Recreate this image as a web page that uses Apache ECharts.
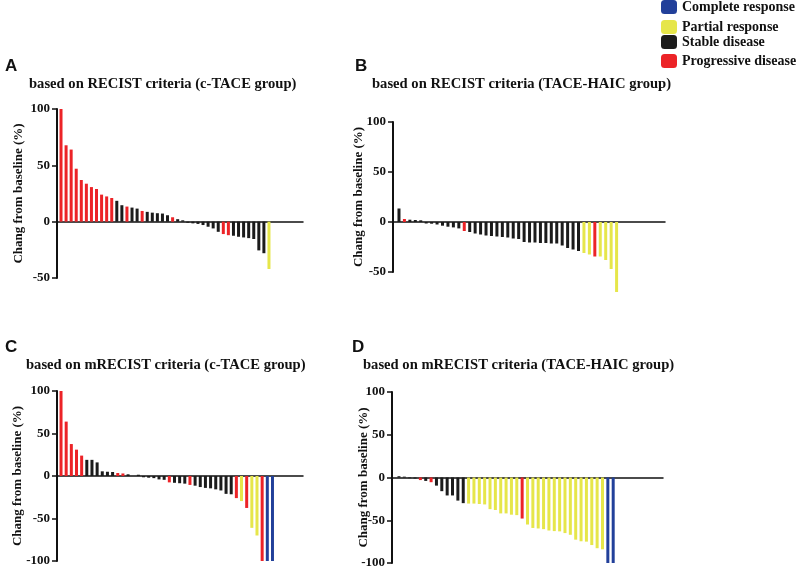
<!DOCTYPE html>
<html><head><meta charset="utf-8">
<script src="https://cdn.jsdelivr.net/npm/echarts@6/dist/echarts.min.js"></script>
<style>html,body{margin:0;padding:0;background:#fff}#c{width:800px;height:571px}</style>
</head><body><div id="c"></div>
<script>
// ---- categories ----
const responseNames = ['Complete response', 'Partial response', 'Stable disease', 'Progressive disease'];
const responseCodes = ['CR', 'PR', 'SD', 'PD'];
const yTicksTop = [-50, 0, 50, 100];
const yTicksBottom = [-100, -50, 0, 50, 100];

// ---- Panel A: RECIST, c-TACE ----
const aValues = [100, 67.8, 64, 47, 37, 33.7, 30.7, 29, 24, 22.4, 21, 18.5, 14.6, 13.4, 12.5, 11.6, 9.5, 8.7, 8, 7.5, 7.2, 5.7, 3.9, 2.2, 1.2, -1, -1.5, -2, -3, -4.5, -6, -9, -11, -12, -12.5, -13.4, -14, -14.6, -15.4, -25.5, -28, -42];
const aStatus = ['PD','PD','PD','PD','PD','PD','PD','PD','PD','PD','PD','SD','SD','PD','SD','SD','PD','SD','SD','SD','SD','SD','PD','SD','SD','SD','SD','SD','SD','SD','SD','SD','PD','PD','SD','SD','SD','SD','SD','SD','SD','PR'];

// ---- Panel B: RECIST, TACE-HAIC ----
const bValues = [13.5, 3, 2.3, 2, 1.7, -1.5, -1.7, -2.5, -3.7, -4.7, -5.4, -6.4, -9, -10, -11.5, -12.5, -13.5, -14, -14.5, -15, -15.5, -16.5, -17, -20, -20.5, -20.5, -21, -21, -21.5, -21.5, -23.5, -26, -27.5, -29, -31, -32.5, -34.5, -34.5, -38, -47, -70];
const bStatus = ['SD','PD','SD','SD','SD','SD','SD','SD','SD','SD','SD','SD','PD','SD','SD','SD','SD','SD','SD','SD','SD','SD','SD','SD','SD','SD','SD','SD','SD','SD','SD','SD','SD','SD','PR','PR','PD','PR','PR','PR','PR'];

// ---- Panel C: mRECIST, c-TACE ----
const cValues = [100, 64, 37.6, 31, 24, 19, 19, 16, 5.5, 5, 4.7, 3.5, 3, 2, 0, 1.5, -1.5, -2, -2.5, -4, -4.5, -7.5, -8, -8.5, -9, -10.5, -11.4, -13, -14, -14.5, -15.7, -17, -21, -21.5, -26, -29.5, -37.6, -61, -70, -100, -100, -100];
const cStatus = ['PD','PD','PD','PD','PD','SD','SD','SD','SD','SD','SD','PD','PD','SD','SD','SD','SD','SD','SD','SD','SD','PD','SD','SD','SD','PD','SD','SD','SD','SD','SD','SD','SD','SD','PD','PR','PD','PR','PR','PD','CR','CR'];

// ---- Panel D: mRECIST, TACE-HAIC ----
const dValues = [1.5, 1, -0.8, -1.2, -3, -4, -5.5, -9.5, -16, -21, -21, -27, -30, -30.5, -30.5, -31, -31.5, -37, -38, -42, -42, -43.5, -44, -48, -55, -59, -59.6, -60.4, -62, -62.7, -63, -65, -67, -72.7, -74.6, -75, -79, -82.7, -84, -100, -100];
const dStatus = ['SD','SD','SD','SD','PD','SD','PD','SD','SD','SD','SD','SD','SD','PR','PR','PR','PR','PR','PR','PR','PR','PR','PR','PD','PR','PR','PR','PR','PR','PR','PR','PR','PR','PR','PR','PR','PR','PR','PR','CR','CR'];

const panelTitles = [
  'based on RECIST criteria (c-TACE group)',
  'based on RECIST criteria (TACE-HAIC group)',
  'based on mRECIST criteria (c-TACE group)',
  'based on mRECIST criteria (TACE-HAIC group)'
];
const panelLetters = ['A', 'B', 'C', 'D'];
const yName = 'Chang from baseline (%)';

// ---- layout / style (not data) ----
const colors = { CR: '#22409a', PR: '#e6e64a', SD: '#1b1b1b', PD: '#ec2327' };
const SERIF = '"Liberation Serif","Times New Roman",serif';
const panels = [
  { values: aValues, status: aStatus, ymin: -50, ymax: 100, grid: { left: 57, right: 497, top: 109, bottom: 293 }, xmax: 48.5, off: -0.21, title: [29, 77], letter: [5, 58], nameGap: 32 },
  { values: bValues, status: bStatus, ymin: -50, ymax: 100, grid: { left: 393, right: 135, top: 122, bottom: 299 }, xmax: 50, off: 0.1, title: [372, 77], letter: [355, 58], nameGap: 28 },
  { values: cValues, status: cStatus, ymin: -100, ymax: 100, grid: { left: 57, right: 497, top: 391, bottom: 10 }, xmax: 47.7, off: -0.22, title: [26, 358], letter: [5, 339], nameGap: 33 },
  { values: dValues, status: dStatus, ymin: -100, ymax: 100, grid: { left: 392, right: 137, top: 392, bottom: 8 }, xmax: 50.6, off: 0.3, title: [363, 358], letter: [352, 339], nameGap: 22 }
];

const option = {
  animation: false,
  backgroundColor: '#fff',
  title: [],
  legend: [],
  grid: [], xAxis: [], yAxis: [], series: []
};

panels.forEach((p, i) => {
  option.grid.push(p.grid);
  option.xAxis.push({
    type: 'value', gridIndex: i, min: 0, max: p.xmax,
    axisLine: { onZero: true, lineStyle: { color: '#111', width: 1.5 } },
    axisTick: { show: false }, axisLabel: { show: false }, splitLine: { show: false }
  });
  option.yAxis.push({
    type: 'value', gridIndex: i, min: p.ymin, max: p.ymax, interval: 50,
    name: yName, nameLocation: 'middle', nameRotate: 90, nameGap: p.nameGap, nameMoveOverlap: false,
    nameTextStyle: { fontFamily: SERIF, fontWeight: 'bold', fontSize: 13, color: '#111' },
    axisLine: { show: true, lineStyle: { color: '#111', width: 2 } },
    axisTick: { show: true, length: 5, lineStyle: { color: '#111', width: 1.5 } },
    axisLabel: { margin: 7, fontFamily: SERIF, fontWeight: 'bold', fontSize: 13, color: '#111' },
    splitLine: { show: false }
  });
  option.title.push({
    text: panelTitles[i], left: p.title[0], top: p.title[1], padding: 0,
    textStyle: { fontFamily: SERIF, fontWeight: 'bold', fontSize: 14.6, color: '#111' }
  });
  option.title.push({
    text: panelLetters[i], left: p.letter[0], top: p.letter[1], padding: 0,
    textStyle: { fontFamily: '"Liberation Sans",Arial,sans-serif', fontWeight: 'bold', fontSize: 17, color: '#111' }
  });
  responseCodes.forEach((code, k) => {
    const data = [];
    p.values.forEach((v, j) => { if (p.status[j] === code) data.push([j + 1 + p.off, v]); });
    option.series.push({
      type: 'bar', name: responseNames[k], xAxisIndex: i, yAxisIndex: i,
      stack: 'panel' + i, barWidth: 3, clip: false, data: data,
      itemStyle: { color: colors[code] }
    });
  });
});

const legendTops = [0, 20, 35, 54];
responseNames.forEach((n, k) => {
  option.legend.push({
    data: [n], left: 661, top: legendTops[k], padding: 0, orient: 'vertical',
    icon: 'roundRect', itemWidth: 16, itemHeight: 14, itemGap: 5,
    textStyle: { fontFamily: SERIF, fontWeight: 'bold', fontSize: 14, color: '#111' }
  });
});

const chart = echarts.init(document.getElementById('c'), null, { renderer: 'canvas' });
chart.setOption(option);
</script></body></html>
